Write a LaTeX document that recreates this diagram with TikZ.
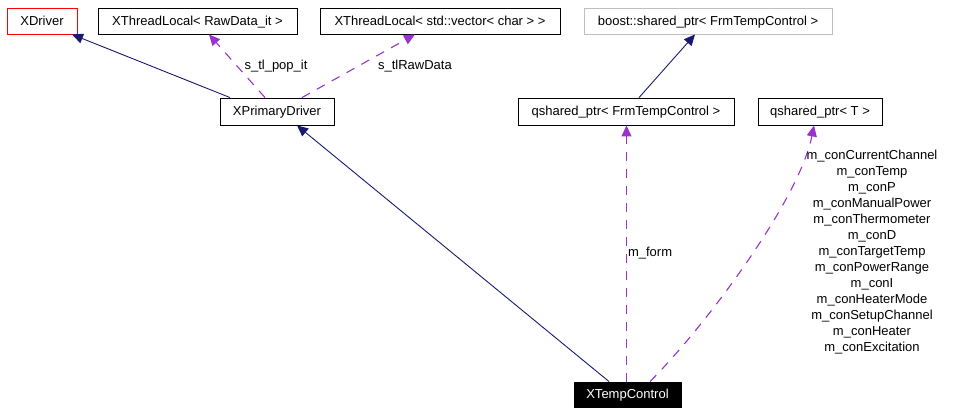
\documentclass[tikz,border=0pt]{standalone}
\usepackage{fontspec}
\setmainfont{Liberation Sans}
\usetikzlibrary{arrows.meta,positioning,calc}
\definecolor{cInh}{HTML}{191970}
\definecolor{cUse}{HTML}{9A32CD}
\definecolor{cGrey}{HTML}{BFBFBF}

\begin{document}
\begin{tikzpicture}[
  x=1pt, y=-1pt,
  font=\fontsize{13}{16}\selectfont,
  cls/.style={draw=#1, line width=.9pt, minimum height=26pt, inner sep=0pt, align=center,
              text height=9.3pt, text depth=1pt},
  cls/.default=black,
  inh/.style={-{Triangle[length=11pt,width=10pt]}, line width=.9pt, draw=cInh},
  use/.style={-{Triangle[length=11pt,width=10pt]}, line width=1.1pt, draw=cUse,
              dash pattern=on 9pt off 8pt},
  lbl/.style={inner sep=0pt, align=center},
]
\useasboundingbox (0,0) rectangle (963,415);

% ---------------- base classes ----------------
\node[cls=red, minimum width=70] (xdrv) at (42,21) {XDriver};
\node[cls, minimum width=199] (tlraw) at (197.5,21) {XThreadLocal< RawData\_it >};
\node[cls, minimum width=240] (tlvec) at (440,21) {XThreadLocal< std::vector< char > >};
\node[cls=cGrey, minimum width=248] (bsp) at (708,21) {boost::shared\_ptr< FrmTempControl >};

% ---------------- middle row ----------------
\node[cls, minimum width=114, minimum height=27] (xpd) at (277,111.5) {XPrimaryDriver};
\node[cls, minimum width=216, minimum height=27] (qsf) at (626,111.5) {qshared\_ptr< FrmTempControl >};
\node[cls, minimum width=124, minimum height=27] (qst) at (820,111.5) {qshared\_ptr< T >};

% ---------------- the class itself ----------------
\node[cls, fill=black, text=white, minimum width=107, minimum height=25] (xtc) at (627.5,394.5) {XTempControl};

% ---------------- inheritance ----------------
\draw[inh] ([xshift=-47]xpd.north) -- ([xshift=30]xdrv.south);
\draw[inh] ([xshift=13]qsf.north) -- ([xshift=-13]bsp.south);
\draw[inh] ([xshift=-18.5]xtc.north) -- ([xshift=20]xpd.south);

% ---------------- usage ----------------
\draw[use] ([xshift=-12]xpd.north) -- ([xshift=11.5]tlraw.south)
  node[lbl, midway, anchor=west, xshift=7] (lpop) {s\_tl\_pop\_it};
\draw[use] ([xshift=25]xpd.north) -- ([xshift=-25]tlvec.south)
  node[lbl, midway, anchor=west, xshift=19] (lraw) {s\_tlRawData};
\draw[use] ([xshift=-1]xtc.north) -- ([xshift=-1]xtc.north |- qsf.south)
  node[lbl, midway, anchor=west, xshift=1] (lform) {m\_form};
\draw[use] ([xshift=22.5]xtc.north) .. controls +(55,-55) and +(-15,75) .. ([xshift=-6]qst.south);

\node[lbl, anchor=north] (lcon) at ([xshift=52,yshift=-24]qst.south)
  {m\_conCurrentChannel\\m\_conTemp\\m\_conP\\m\_conManualPower\\m\_conThermometer\\
   m\_conD\\m\_conTargetTemp\\m\_conPowerRange\\m\_conI\\m\_conHeaterMode\\
   m\_conSetupChannel\\m\_conHeater\\m\_conExcitation};

\end{tikzpicture}
\end{document}
